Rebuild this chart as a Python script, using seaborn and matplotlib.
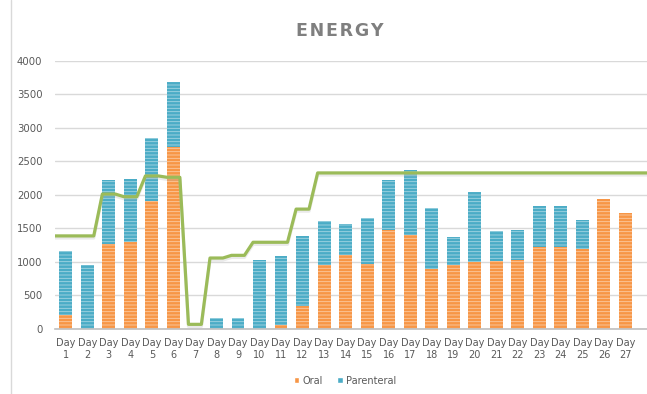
import matplotlib
matplotlib.use("Agg")
import matplotlib.pyplot as plt
import matplotlib.patheffects as pe
from matplotlib.patches import Patch
from matplotlib.lines import Line2D
import numpy as np
import pandas as pd
import seaborn as sns

# Daily energy intake (kcal)
days = list(range(1, 28))
oral = [200, 0, 1270, 1295, 1900, 2715, 0, 0, 0, 0, 50, 345, 945, 1100, 965,
        1475, 1400, 890, 945, 990, 1010, 1025, 1215, 1215, 1195, 1930, 1725]
parenteral = [965, 945, 945, 945, 950, 960, 0, 165, 165, 1025, 1035, 1045, 665,
              465, 680, 745, 975, 905, 425, 1045, 445, 445, 615, 615, 430, 0, 0]
target = [1385, 1385, 2010, 1970, 2280, 2260, 65, 1055, 1095, 1290, 1290, 1785,
          2325, 2325, 2325, 2325, 2325, 2325, 2325, 2325, 2325, 2325, 2325, 2325,
          2325, 2325, 2325]
tick_labels = [f"Day\n{d}" for d in days]

ORANGE = "#F79646"
BLUE = "#4BACC6"
GREEN = "#9BBB59"
TEXT = "#595959"

sns.set_theme(style="white")
plt.rcParams["font.family"] = ["DejaVu Sans"]
plt.rcParams["hatch.linewidth"] = 0.6

pos = np.arange(len(days))
df = pd.DataFrame({"pos": pos, "oral": oral,
                   "total": np.array(oral) + np.array(parenteral)})

fig = plt.figure(figsize=(6.47, 3.94), dpi=100)
ax = fig.add_axes([55 / 647, 1 - 328.7 / 394, 1 - 55 / 647, (328.7 - 60.7) / 394])

bar_kw = dict(native_scale=True, width=0.6, saturation=1, hatch="-----",
              edgecolor=(1, 1, 1, 0.5), linewidth=0, errorbar=None)
sns.barplot(data=df, x="pos", y="total", color=BLUE, ax=ax, **bar_kw)
sns.barplot(data=df, x="pos", y="oral", color=ORANGE, ax=ax, **bar_kw)

# Target line: flat across each bar, joined between days
lx, ly = [], []
for i, t in enumerate(target):
    lx += [i - 0.3, i + 0.3]
    ly += [t, t]
lx[0] = -0.5
lx[-1] = 27.0
line_df = pd.DataFrame({"x": lx, "y": ly})
sns.lineplot(data=line_df, x="x", y="y", sort=False, color=GREEN, linewidth=2.3,
             ax=ax, legend=False,
             path_effects=[pe.SimpleLineShadow(offset=(0, -1.5), shadow_color="#BBBBBB",
                                               alpha=0.3), pe.Normal()])

ax.set_xlim(-0.5, 27.0)
ax.set_ylim(0, 4000)
ax.set_yticks(range(0, 4001, 500))
ax.set_xticks(pos)
ax.set_xticklabels(tick_labels, fontsize=7, color=TEXT, linespacing=1.25)
ax.tick_params(axis="y", labelsize=7.3, colors=TEXT, length=0, pad=9)
ax.tick_params(axis="x", length=0, pad=7)
ax.set_xlabel("")
ax.set_ylabel("")
ax.yaxis.grid(True, color="#D9D9D9", linewidth=1.0)
ax.set_axisbelow(True)
for s in ["top", "right", "left"]:
    ax.spines[s].set_visible(False)
ax.spines["bottom"].set_color("#BFBFBF")
ax.spines["bottom"].set_linewidth(1.2)

fig.text(340 / 647, 1 - 31.3 / 394, "\u200a".join("ENERGY"), ha="center", va="center",
         fontsize=12.5, fontweight="bold", color="#7F7F7F")

# Chart frame edge on the left
fig.add_artist(Line2D([11 / 647, 11 / 647], [0, 1], color="#D9D9D9", linewidth=1.0))

handles = [Patch(facecolor=ORANGE, label="Oral"), Patch(facecolor=BLUE, label="Parenteral")]
fig.legend(handles=handles, loc="center", bbox_to_anchor=(345 / 647, 1 - 380.7 / 394),
           ncol=2, frameon=False, fontsize=7, handlelength=0.6, handleheight=0.6,
           handletextpad=0.3, columnspacing=1.5, labelcolor=TEXT)

fig.savefig("out.png", dpi=100)
